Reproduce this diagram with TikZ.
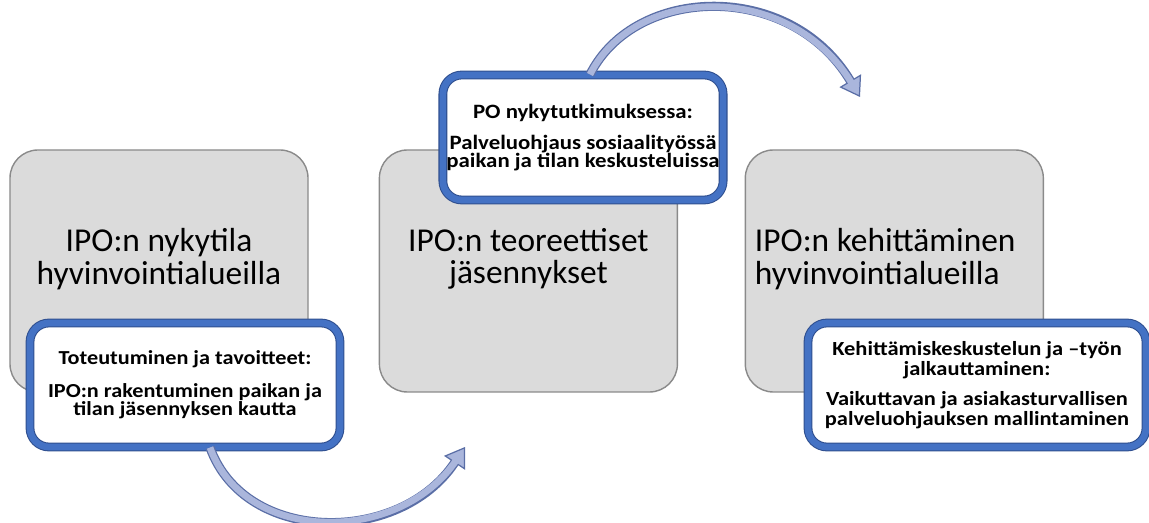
\documentclass[tikz,border=0pt]{standalone}
\usepackage{fontspec}
\setmainfont{Carlito}
\newfontfamily\boxfont[FakeStretch=1.12]{Carlito}
\usepackage{tikz}
\usetikzlibrary{positioning,arrows.meta}

\definecolor{stagegray}{HTML}{DBDBDB}
\definecolor{stageedge}{HTML}{8A8A8A}
\definecolor{boxblue}{HTML}{4472C4}
\definecolor{boxedge}{HTML}{2F4F8F}
\definecolor{arrowfill}{HTML}{AAB6DC}
\definecolor{arrowedge}{HTML}{5A6EA6}

\begin{document}
\begin{tikzpicture}[
stage/.style={draw=stageedge,line width=0.8pt,fill=stagegray,rounded corners=0.56cm,
    minimum width=5.96cm,minimum height=4.84cm},
bigtext/.style={font=\fontsize{19}{18.5}\selectfont,align=center,inner sep=0pt},
infobox/.style={draw=boxedge,double=boxblue,double distance=3.8pt,line width=0.6pt,
    fill=white,rounded corners=0.38cm,align=center,inner sep=2pt},
bendarrow/.style={draw=arrowedge,line width=5.2pt,
    -{Triangle[length=0.38cm,width=0.5cm,fill=arrowfill,line width=0.7pt]},
    postaction={draw=arrowfill,line width=3.8pt,-,shorten >=0.3cm}}]
\useasboundingbox (0,0) rectangle (22.98,-10.46);

% the three stages
\node (nyky) [stage] at (3.18,-5.42) {};
\node (teoria) [stage,right=1.4cm of nyky] {};
\node (kehitys) [stage,right=1.33cm of teoria] {};

\node (nykyt) [bigtext] at ([yshift=0.24cm]nyky.center) {IPO:n nykytila\\hyvinvointialueilla};
\node (teoriat) [bigtext] at ([yshift=0.24cm]teoria.center) {IPO:n teoreettiset\\jäsennykset};
\node (kehityst) [bigtext,align=left,anchor=west] at ([xshift=0.2cm,yshift=0.24cm]kehitys.west) {IPO:n kehittäminen\\hyvinvointialueilla};

% info boxes
\node (toteutus) [infobox,minimum width=6.2cm,minimum height=2.48cm,
    font=\boxfont\fontsize{11.3}{10.3}\selectfont\bfseries] at (3.7,-7.7)
    {Toteutuminen ja tavoitteet:\\[8.5pt]IPO:n rakentuminen paikan ja\\tilan jäsennyksen kautta};
\node (tutkimus) [infobox,minimum width=5.6cm,minimum height=2.5cm,
    font=\boxfont\fontsize{11.6}{10.3}\selectfont\bfseries] at (11.66,-2.75)
    {PO nykytutkimuksessa:\\[7pt]Palveluohjaus sosiaalityössä\\paikan ja tilan keskusteluissa};
\node (jalkautus) [infobox,minimum width=6.76cm,minimum height=2.48cm,
    font=\boxfont\fontsize{11.4}{11.3}\selectfont\bfseries] at (19.54,-7.7)
    {Kehittämiskeskustelun ja –työn\\jalkauttaminen:\\[6pt]Vaikuttavan ja asiakasturvallisen\\palveluohjauksen mallintaminen};

% bent arrows
\coordinate (alakarki) at (9.3,-8.94);
\coordinate (ylakarki) at (17.2,-1.94);
\draw[bendarrow] ([xshift=0.5cm]toteutus.south) .. controls (4.9,-10.9) and (8.0,-10.9) .. (alakarki);
\draw[bendarrow] ([xshift=0.14cm]tutkimus.north) .. controls (12.7,0.3) and (15.8,0.4) .. (ylakarki);
\end{tikzpicture}
\end{document}
